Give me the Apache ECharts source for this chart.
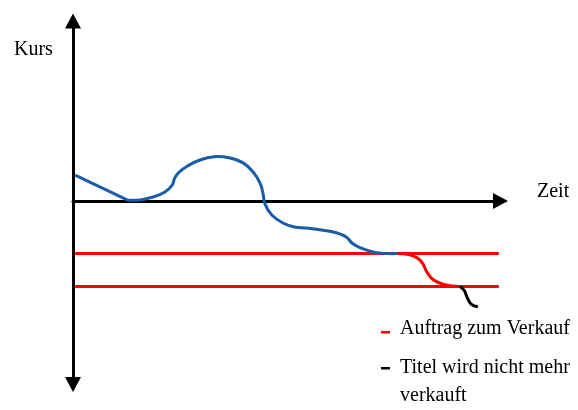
<!DOCTYPE html>
<html>
<head>
<meta charset="utf-8">
<script src="https://cdn.jsdelivr.net/npm/echarts@6/dist/echarts.min.js"></script>
<style>html,body{margin:0;padding:0;background:#fff;}#c{width:578px;height:410px;}</style>
</head>
<body>
<div id="c"></div>
<script>
// Schematic values (x = Zeit, y = Kurs)
const declineStart = [[0.5, 7.2], [12.9, 0.2]];
const priceCurve = [[12.9, 0.2], [15.7, 0.3], [18.7, 1.1], [21.5, 2.5], [23.2, 4.4], [23.8, 6.4], [24.9, 8.1], [26.9, 9.8], [29.7, 11.4], [33.0, 12.3], [36.5, 12.0], [39.8, 10.6], [42.1, 8.1], [43.7, 5.1], [44.4, 2.4], [44.9, -0.8], [46.5, -3.9], [49.1, -6.1], [51.8, -7.2], [54.7, -7.5], [58.5, -8.1], [61.8, -8.9], [64.0, -10.1], [65.4, -11.8], [67.4, -13.1], [70.4, -14.2], [73.5, -14.6], [75.8, -14.6]];
const sellCurve = [[75.8, -14.6], [78.5, -14.9], [80.5, -15.8], [81.8, -17.3], [82.7, -19.6], [84.2, -21.8], [86.5, -23.1], [88.7, -23.6], [90.5, -23.75]];
const unsoldCurve = [[90.5, -23.75], [91.5, -24.8], [92.2, -26.8], [93.2, -28.7], [94.7, -29.4]];
const upperLimit = [[0.5, -14.6], [99.6, -14.6]];
const lowerLimit = [[0.5, -23.75], [99.6, -23.75]];
const labels = { y: 'Kurs', x: 'Zeit', sell: 'Auftrag zum Verkauf', unsold: 'Titel wird nicht mehr\nverkauft' };

const font = '"Liberation Serif", "Times New Roman", serif';
const chart = echarts.init(document.getElementById('c'), null, { renderer: 'canvas' });
const lineSeries = (data, color) => ({
  type: 'line', data, symbol: 'none', silent: true,
  lineStyle: { color, width: 3 }, z: 3
});
// smooth curve drawn through the data points, positioned by the cartesian axes
const curveSeries = (data, color) => ({
  type: 'custom', coordinateSystem: 'cartesian2d', data, silent: true, z: 4,
  encode: { x: 0, y: 1 },
  renderItem: (params, api) => {
    if (params.dataIndex !== 0) return null;
    const pts = data.map(d => api.coord(d));
    return {
      type: 'polyline',
      shape: { points: pts, smooth: 0.42 },
      style: { stroke: color, lineWidth: 3, fill: null, lineJoin: 'round', lineCap: 'butt' }
    };
  }
});
chart.setOption({
  animation: false,
  backgroundColor: '#fff',
  grid: { left: 73, top: 21, width: 427.5, height: 363.6, containLabel: false },
  xAxis: {
    type: 'value', min: 0, max: 100,
    axisLine: { onZero: true, lineStyle: { color: '#000', width: 3 }, symbol: ['none', 'triangle'], symbolSize: [16, 15] },
    axisTick: { show: false }, axisLabel: { show: false }, splitLine: { show: false }
  },
  yAxis: {
    type: 'value', min: -51, max: 50,
    axisLine: { show: true, lineStyle: { color: '#000', width: 3 }, symbol: ['triangle', 'triangle'], symbolSize: [16, 15] },
    axisTick: { show: false }, axisLabel: { show: false }, splitLine: { show: false }
  },
  series: [
    lineSeries(upperLimit, '#ff0000'),
    lineSeries(lowerLimit, '#ff0000'),
    lineSeries(declineStart, '#1a5ca8'),
    curveSeries(priceCurve, '#1a5ca8'),
    curveSeries(sellCurve, '#ff0000'),
    curveSeries(unsoldCurve, '#000000')
  ],
  graphic: [
    { type: 'text', left: 14, top: 40, style: { text: labels.y, font: '20px ' + font, fill: '#000' } },
    { type: 'text', left: 537, top: 182, style: { text: labels.x, font: '20px ' + font, fill: '#000' } },
    { type: 'rect', shape: { x: 381, y: 331, width: 9, height: 2.5 }, style: { fill: '#ff0000' } },
    { type: 'text', left: 400, top: 319, style: { text: labels.sell, font: '20px ' + font, fill: '#000' } },
    { type: 'rect', shape: { x: 381, y: 367, width: 9, height: 2.5 }, style: { fill: '#000' } },
    { type: 'text', left: 400, top: 354, style: { text: labels.unsold, font: '20px ' + font, fill: '#000', lineHeight: 28 } }
  ]
});
</script>
</body>
</html>
